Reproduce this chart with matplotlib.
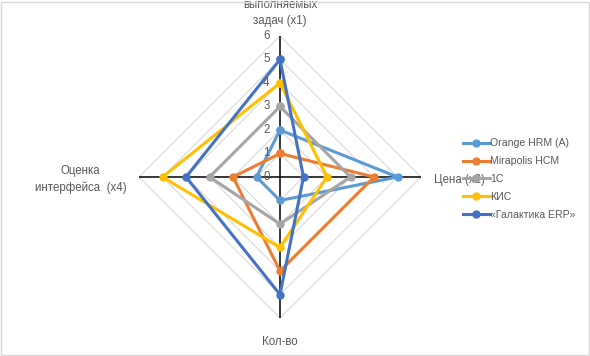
import numpy as np
import matplotlib.pyplot as plt
from matplotlib.patches import Rectangle

plt.rcParams['font.family'] = ['Liberation Sans', 'DejaVu Sans']

# Данные
osi = ["выполняемых\nзадач (x1)", "Цена (x2)", "Кол-во", "Оценка\nинтерфейса  (x4)"]
sistemy = ["Orange HRM (A)", "Mirapolis HCM", "1С", "КИС", "«Галактика ERP»"]
orange_hrm = [2, 5, 1, 1]
mirapolis = [1, 4, 4, 2]
odin_s = [3, 3, 2, 3]
kis = [4, 2, 3, 5]
galaktika = [5, 1, 5, 4]
znacheniya = [orange_hrm, mirapolis, odin_s, kis, galaktika]
tsveta = ["#5B9BD5", "#ED7D31", "#A5A5A5", "#FFC000", "#4472C4"]
shkala = [0, 1, 2, 3, 4, 5, 6]

W, H = 590, 356
fig = plt.figure(figsize=(W / 100, H / 100), dpi=100)
ax = fig.add_axes([139 / W, 38 / H, 282 / W, 282 / H], projection='polar')
ax.set_theta_offset(np.pi / 2)
ax.set_theta_direction(-1)
ax.set_ylim(0, 6)
ax.grid(False)
ax.spines['polar'].set_visible(False)
ax.set_xticks([])
ax.set_yticks([])
ax.patch.set_alpha(0)

ugly = np.linspace(0, 2 * np.pi, len(osi), endpoint=False)
ugly_zamk = np.append(ugly, ugly[0])

# сетка-ромбы
for r in shkala[1:]:
    ax.plot(ugly_zamk, [r] * len(ugly_zamk), color="#D9D9D9", lw=0.8, zorder=1)
# оси
for a in ugly:
    ax.plot([a, a], [0, 6], color="black", lw=1.1, zorder=2)

# подписи шкалы
for r in shkala:
    ax.annotate(str(r), xy=(0, r), xytext=(-7.5, 0), textcoords='offset points',
                ha='right', va='center', fontsize=8.3, color="#595959", zorder=6)

# серии
for name, vals, c in zip(sistemy, znacheniya, tsveta):
    v = vals + vals[:1]
    ax.plot(ugly_zamk, v, color=c, lw=2.2, marker='o', markersize=5,
            label=name, zorder=5)

# подписи осей
ax.annotate(osi[0], xy=(0, 6), xytext=(0, 6.5), textcoords='offset points',
            ha='center', va='bottom', fontsize=8.3, color="#595959",
            linespacing=1.45, annotation_clip=False)
ax.annotate(osi[1], xy=(ugly[1], 6), xytext=(9, -2), textcoords='offset points',
            ha='left', va='center', fontsize=8.3, color="#595959",
            annotation_clip=False)
ax.annotate(osi[2], xy=(ugly[2], 6), xytext=(0, -13), textcoords='offset points',
            ha='center', va='top', fontsize=8.3, color="#595959",
            annotation_clip=False)
ax.annotate(osi[3], xy=(ugly[3], 6), xytext=(-9, -2), textcoords='offset points',
            ha='right', va='center', fontsize=8.3, color="#595959",
            multialignment='center', linespacing=1.45, annotation_clip=False)

leg = fig.legend(loc='upper left', bbox_to_anchor=(458 / W, 1 - 133 / H),
                 frameon=False, fontsize=7.6, labelcolor="#595959",
                 borderpad=0, labelspacing=0.75, handlelength=2.5,
                 handletextpad=0.05)

fig.patches.append(Rectangle((0.5 / W, 1.5 / H), (W - 2) / W, (H - 3) / H,
                             transform=fig.transFigure, fill=False,
                             edgecolor="#D9D9D9", lw=1))

fig.savefig("out.png", dpi=100)
